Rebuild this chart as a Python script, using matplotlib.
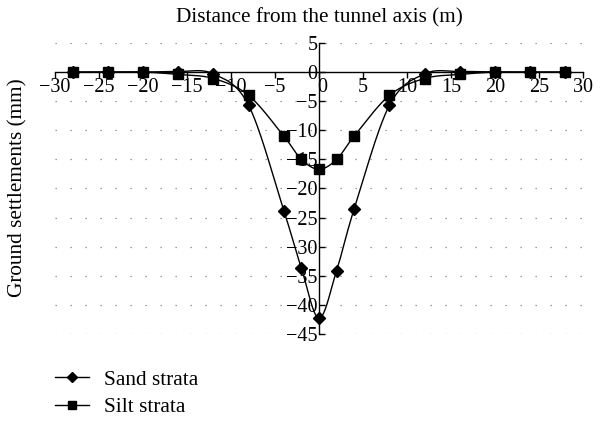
import numpy as np
import matplotlib
matplotlib.use("Agg")
import matplotlib.pyplot as plt
from matplotlib.lines import Line2D

plt.rcParams['font.family'] = ['Liberation Serif', 'DejaVu Serif']

distance = [-28, -24, -20, -16, -12, -8, -4, -2, 0, 2, 4, 8, 12, 16, 20, 24, 28]
sand = [0, 0, 0, 0.1, -0.3, -5.7, -23.8, -33.7, -42.3, -34.1, -23.5, -5.7, -0.3, 0.1, 0, 0, 0]
silt = [0, 0, 0, -0.4, -1.1, -4.0, -11.0, -15.0, -16.7, -15.0, -11.0, -4.0, -1.1, -0.4, 0, 0, 0]
x_ticks = [-30, -25, -20, -15, -10, -5, 0, 5, 10, 15, 20, 25, 30]
y_ticks = [5, 0, -5, -10, -15, -20, -25, -30, -35, -40, -45]

FS = 15.3
TFS = 14.5


def smooth(xs, ys, n=30):
    x = np.asarray(xs, float)
    y = np.asarray(ys, float)
    P = np.column_stack([x, y])
    P = np.vstack([P[0], P, P[-1]])
    out = []
    t = np.linspace(0, 1, n)[:, None]
    for i in range(1, len(P) - 2):
        p0, p1, p2, p3 = P[i - 1], P[i], P[i + 1], P[i + 2]
        c1 = p1 + (p2 - p0) / 6.0
        c2 = p2 - (p3 - p1) / 6.0
        seg = ((1 - t) ** 3) * p1 + 3 * ((1 - t) ** 2) * t * c1 + 3 * (1 - t) * t ** 2 * c2 + t ** 3 * p2
        out.append(seg if i == 1 else seg[1:])
    s = np.vstack(out)
    return s[:, 0], s[:, 1]


fig = plt.figure(figsize=(6.06, 4.21), dpi=100)
ax = fig.add_axes([55 / 606, 1 - 334 / 421, (583 - 55) / 606, (334 - 43) / 421])
ax.set_xlim(-30, 30)
ax.set_ylim(-45, 5)

for yv in y_ticks:
    if yv != 0:
        ax.axhline(yv, color='#808080', lw=0.9, linestyle=(0, (1, 11)), zorder=0)

sx, sy = smooth(distance, sand)
ax.plot(sx, sy, color='black', lw=1.0, zorder=2)
ax.plot(distance, sand, linestyle='none', marker='D', ms=6.5, color='black', zorder=3)
tx, ty = smooth(distance, silt)
ax.plot(tx, ty, color='black', lw=1.0, zorder=2)
ax.plot(distance, silt, linestyle='none', marker='s', ms=7, color='black', zorder=3)

ax.spines['left'].set_position(('data', 0))
ax.spines['bottom'].set_position(('data', 0))
ax.spines['top'].set_visible(False)
ax.spines['right'].set_visible(False)
ax.spines['left'].set_linewidth(1.0)
ax.spines['bottom'].set_linewidth(1.0)
ax.set_xticks(x_ticks)
ax.set_yticks(y_ticks)
ax.set_xticklabels([str(v).replace('-', '\u2212') for v in x_ticks])
ax.set_yticklabels([str(v).replace('-', '\u2212') for v in y_ticks])
ax.tick_params(axis='x', direction='out', length=4, width=1, labelsize=TFS, pad=0)
ax.tick_params(axis='y', direction='in', length=4, width=1, labelsize=TFS, pad=1)
ax.patch.set_visible(False)
# nudge the x "0" label slightly right, away from the y "0" label (as in the reference)
for lbl in ax.get_xticklabels():
    if lbl.get_text() == '0':
        import matplotlib.transforms as mtransforms
        lbl.set_transform(lbl.get_transform() + mtransforms.ScaledTranslation(3 / 100, 0, fig.dpi_scale_trans))

fig.text(319 / 606, 1 - 18 / 421, 'Distance from the tunnel axis (m)', ha='center', va='center', fontsize=FS)
fig.text(18 / 606, 1 - 188 / 421, 'Ground settlements (mm)', ha='center', va='center', rotation=90, fontsize=FS)

h1 = Line2D([], [], color='black', lw=1.0, marker='D', ms=5.5)
h2 = Line2D([], [], color='black', lw=1.0, marker='s', ms=5.5)
fig.legend([h1, h2], ['Sand strata', 'Silt strata'], loc='upper left',
           bbox_to_anchor=(55 / 606, 1 - 370 / 421), frameon=False, fontsize=FS,
           handlelength=1.6, handletextpad=0.7, labelspacing=0.36, borderpad=0,
           borderaxespad=0)

fig.savefig('out.png', dpi=100)
